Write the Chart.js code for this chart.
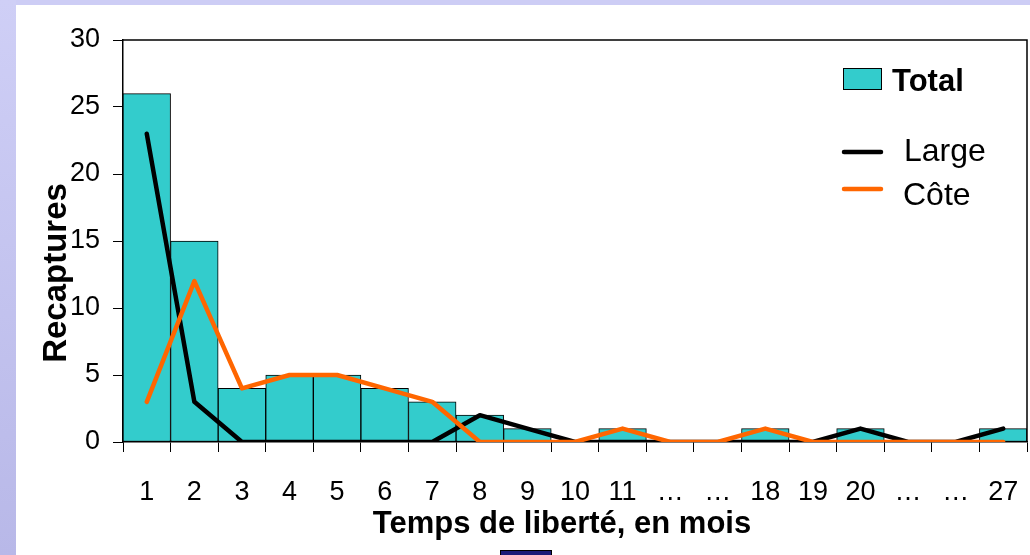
<!DOCTYPE html>
<html lang="fr">
<head>
<meta charset="utf-8">
<title>Recaptures par temps de liberté</title>
<script src="https://cdn.jsdelivr.net/npm/chart.js@4/dist/chart.umd.min.js"></script>
<style>
  html, body { margin: 0; padding: 0; }
  body {
    width: 1030px; height: 555px; position: relative; overflow: hidden;
    background: #cdcdf5;
    font-family: "Liberation Sans", Arial, sans-serif;
  }
  #side {
    position: absolute; left: 0; top: 0; width: 16px; height: 555px;
    background: linear-gradient(#cfcff6, #b8b8e8);
  }
  #sheet {
    position: absolute; left: 16px; top: 5px; right: 0; bottom: 0;
    background: #ffffff;
  }
  #tab {
    position: absolute; left: 500px; top: 550px; width: 50px; height: 8px;
    background: #1c1c78; border: 1px solid #000;
  }
  #wrap { position: absolute; left: 0; top: 0; width: 1030px; height: 555px; }
</style>
</head>
<body>
<div id="side"></div>
<div id="sheet"></div>
<div id="tab"></div>
<div id="wrap"><canvas id="chart" width="1030" height="555"></canvas></div>
<script>
// Mois passés en liberté avant recapture
const categories = ['1', '2', '3', '4', '5', '6', '7', '8', '9', '10', '11', '…', '…', '18', '19', '20', '…', '…', '27'];
// Nombre de recaptures
const totalValues = [26, 15, 4, 5, 5, 4, 3, 2, 1, 0, 1, 0, 0, 1, 0, 1, 0, 0, 1];
const largeValues = [23, 3, 0, 0, 0, 0, 0, 2, 1, 0, 0, 0, 0, 0, 0, 1, 0, 0, 1];
const coteValues  = [3, 12, 4, 5, 5, 4, 3, 0, 0, 0, 1, 0, 0, 1, 0, 0, 0, 0, 0];
const yTicks = [0, 5, 10, 15, 20, 25, 30];

const FONT = '"Liberation Sans", Arial, sans-serif';
const TEAL = '#33cccc';
const ORANGE = '#ff6600';
const INK = '#000000';

// Cadre, titres d'axes et légende
const decorations = {
  id: 'decorations',
  afterDatasetsDraw(chart) {
    const { ctx, chartArea: a } = chart;
    ctx.save();
    // cadre haut et droit du graphique
    ctx.strokeStyle = INK;
    ctx.lineWidth = 1.5;
    ctx.beginPath();
    ctx.moveTo(a.left, a.top);
    ctx.lineTo(a.right, a.top);
    ctx.lineTo(a.right, a.bottom);
    ctx.stroke();
    ctx.restore();
  },
  afterDraw(chart) {
    const { ctx, chartArea: a } = chart;
    ctx.save();
    ctx.fillStyle = INK;

    // titre de l'axe horizontal
    ctx.font = 'bold 31px ' + FONT;
    ctx.textAlign = 'center';
    ctx.textBaseline = 'alphabetic';
    ctx.fillText('Temps de liberté, en mois', a.left + 439, a.bottom + 91);

    // titre de l'axe vertical
    ctx.save();
    ctx.translate(a.left - 57, a.top + 233);
    ctx.rotate(-Math.PI / 2);
    ctx.font = 'bold 33px ' + FONT;
    ctx.textAlign = 'center';
    ctx.fillText('Recaptures', 0, 0);
    ctx.restore();

    // légende
    const lx = a.right - 184;
    ctx.fillStyle = TEAL;
    ctx.fillRect(lx, 68, 39, 22);
    ctx.strokeStyle = INK;
    ctx.lineWidth = 1;
    ctx.strokeRect(lx + 0.5, 68.5, 38, 21);
    ctx.fillStyle = INK;
    ctx.textAlign = 'left';
    ctx.font = 'bold 31px ' + FONT;
    ctx.fillText('Total', lx + 49, 91);

    ctx.lineWidth = 4.5;
    ctx.lineCap = 'round';
    ctx.strokeStyle = INK;
    ctx.beginPath(); ctx.moveTo(lx + 1, 152); ctx.lineTo(lx + 38, 152); ctx.stroke();
    ctx.strokeStyle = ORANGE;
    ctx.beginPath(); ctx.moveTo(lx + 1, 189); ctx.lineTo(lx + 38, 189); ctx.stroke();

    ctx.font = '32px ' + FONT;
    ctx.fillText('Large', lx + 61, 161);
    ctx.fillText('Côte', lx + 60, 205);
    ctx.restore();
  }
};

new Chart(document.getElementById('chart'), {
  type: 'bar',
  data: {
    labels: categories,
    datasets: [
      {
        type: 'line',
        label: 'Côte',
        data: coteValues,
        borderColor: ORANGE,
        borderWidth: 4.5,
        borderCapStyle: 'round',
        borderJoinStyle: 'round',
        pointRadius: 0,
        tension: 0,
        order: 0
      },
      {
        type: 'line',
        label: 'Large',
        data: largeValues,
        borderColor: INK,
        borderWidth: 4.5,
        borderCapStyle: 'round',
        borderJoinStyle: 'round',
        pointRadius: 0,
        tension: 0,
        order: 1
      },
      {
        type: 'bar',
        label: 'Total',
        data: totalValues,
        backgroundColor: TEAL,
        borderColor: INK,
        borderWidth: 1,
        borderSkipped: false,
        barPercentage: 1,
        categoryPercentage: 1,
        order: 2
      }
    ]
  },
  options: {
    responsive: false,
    animation: false,
    events: [],
    layout: { padding: { left: 0, top: 40, right: 3, bottom: 0 } },
    plugins: {
      legend: { display: false },
      tooltip: { enabled: false },
      title: { display: false }
    },
    scales: {
      x: {
        offset: true,
        grid: {
          offset: true,
          drawOnChartArea: false,
          drawTicks: true,
          tickLength: 10,
          color: INK,
          lineWidth: 1
        },
        border: { display: true, color: INK, width: 1.5 },
        ticks: {
          color: INK,
          padding: 24,
          maxRotation: 0,
          autoSkip: false,
          font: { family: FONT, size: 27 }
        },
        afterFit(scale) {
          scale.height = 113;
          scale.paddingLeft = 0;
          scale.paddingRight = 0;
        }
      },
      y: {
        min: 0,
        max: 30,
        afterBuildTicks(scale) { scale.ticks = yTicks.map(v => ({ value: v })); },
        grid: {
          drawOnChartArea: false,
          drawTicks: true,
          tickLength: 10,
          color: INK,
          lineWidth: 1
        },
        border: { display: true, color: INK, width: 1.5 },
        ticks: {
          color: INK,
          padding: 13,
          font: { family: FONT, size: 27 }
        },
        afterFit(scale) { scale.width = 123; }
      }
    }
  },
  plugins: [decorations]
});
</script>
</body>
</html>
